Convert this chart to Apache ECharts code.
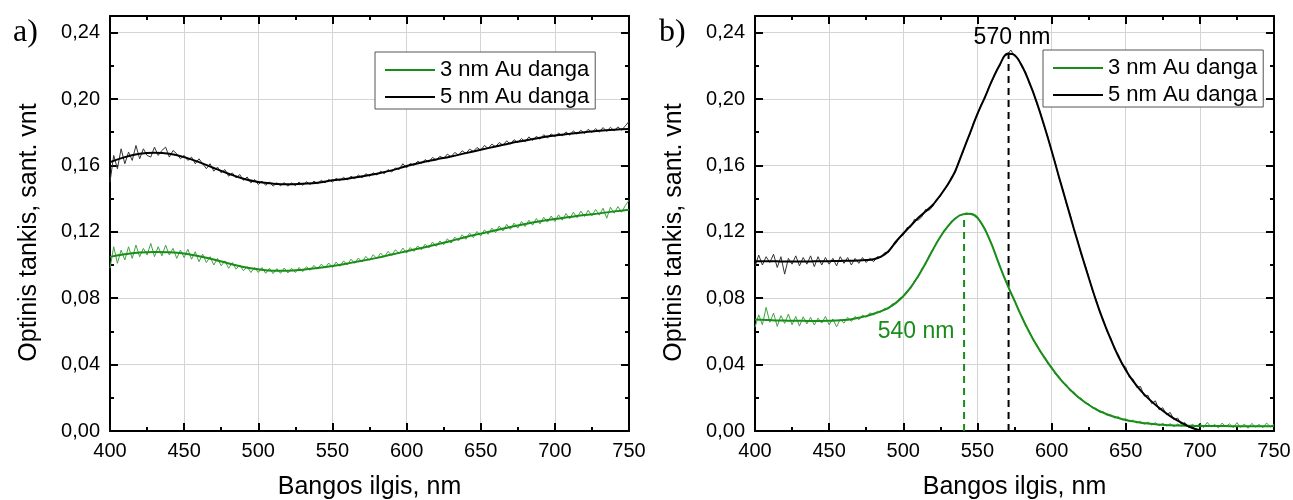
<!DOCTYPE html>
<html>
<head>
<meta charset="utf-8">
<script src="https://cdn.jsdelivr.net/npm/echarts@6/dist/echarts.min.js"></script>
<style>
html,body{margin:0;padding:0;background:#fff;}
#chart{width:1293px;height:500px;}
</style>
</head>
<body>
<div id="chart"></div>
<script>
// ---------- DATA ----------
const seriesNames = ['3 nm Au danga', '5 nm Au danga'];
const panelLabels = ['a)', 'b)'];
const xTitle = 'Bangos ilgis, nm';
const yTitle = 'Optinis tankis, sant. vnt';

const wl10 = [400,410,420,430,440,450,460,470,480,490,500,510,520,530,540,550,560,570,580,590,600,610,620,630,640,650,660,670,680,690,700,710,720,730,740,750];
const wl5 = [400,405,410,415,420,425,430,435,440,445,450,455,460,465,470,475,480,485,490,495,500,505,510,515,520,525,530,535,540,545,550,555,560,565,570,575,580,585,590,595,600,605,610,615,620,625,630,635,640,645,650,655,660,665,670,675,680,685,690,695,700,705,710,715,720,725,730,735,740,745,750];
const wl25 = [
  400,402.5,405,407.5,410,412.5,415,417.5,420,422.5,
  425,427.5,430,432.5,435,437.5,440,442.5,445,447.5,
  450,452.5,455,457.5,460,462.5,465,467.5,470,472.5,
  475,477.5,480,482.5,485,487.5,490,492.5,495,497.5,
  500,502.5,505,507.5,510,512.5,515,517.5,520,522.5,
  525,527.5,530,532.5,535,537.5,540,542.5,545,547.5,
  550,552.5,555,557.5,560,562.5,565,567.5,570,572.5,
  575,577.5,580,582.5,585,587.5,590,592.5,595,597.5,
  600,602.5,605,607.5,610,612.5,615,617.5,620,622.5,
  625,627.5,630,632.5,635,637.5,640,642.5,645,647.5,
  650,652.5,655,657.5,660,662.5,665,667.5,670,672.5,
  675,677.5,680,682.5,685,687.5,690,692.5,695,697.5,
  700,702.5,705,707.5,710,712.5,715,717.5,720,722.5,
  725,727.5,730,732.5,735,737.5,740,742.5,745,747.5,
  750];

// panel a) fitted curves (10 nm step)
const fitA3 = [0.1049,0.1065,0.1075,0.1079,0.1077,0.1069,0.1053,0.1033,0.1009,0.0988,0.0974,0.0966,0.0966,0.0972,0.0982,0.0994,0.1009,0.1025,0.1043,0.1063,0.1083,0.1103,0.1123,0.1145,0.1169,0.1189,0.1209,0.1229,0.1247,0.1263,0.1277,0.1289,0.1301,0.1311,0.1323,0.1333];
const fitA5 = [0.162,0.165,0.167,0.1676,0.167,0.165,0.162,0.1584,0.155,0.152,0.150,0.149,0.1486,0.149,0.1496,0.151,0.152,0.1534,0.155,0.157,0.1596,0.1618,0.1636,0.1654,0.1674,0.1694,0.1714,0.1734,0.175,0.1767,0.178,0.179,0.180,0.1809,0.1815,0.1819];
// panel a) measured spectra (2.5 nm step)
const rawA3 = [
  0.098,0.111,0.101,0.109,0.103,0.111,0.104,0.112,0.105,0.110,
  0.106,0.113,0.105,0.111,0.1055,0.112,0.106,0.110,0.104,0.109,
  0.1045,0.1095,0.1035,0.108,0.102,0.1065,0.1015,0.105,0.100,0.104,
  0.0995,0.1025,0.098,0.1015,0.0975,0.1000,0.0965,0.0990,0.0955,0.0985,
  0.0955,0.0985,0.0950,0.0980,0.0948,0.0978,0.0950,0.0982,0.0952,0.0980,
  0.0955,0.0985,0.0960,0.0990,0.0968,0.0998,0.0975,0.1005,0.0982,0.1012,
  0.0985,0.1018,0.0992,0.1025,0.1000,0.1035,0.1010,0.1042,0.1018,0.1052,
  0.1028,0.1062,0.1038,0.1072,0.1048,0.1082,0.1058,0.1092,0.1068,0.1102,
  0.1072,0.1105,0.1082,0.1115,0.1092,0.1125,0.1102,0.1138,0.1112,0.1145,
  0.1122,0.1158,0.1132,0.1168,0.1145,0.1182,0.1155,0.1192,0.1165,0.1202,
  0.1175,0.1212,0.1185,0.1222,0.1195,0.1235,0.1205,0.1245,0.1215,0.1252,
  0.1222,0.1262,0.1232,0.1270,0.1240,0.1280,0.1248,0.1288,0.1258,0.1295,
  0.1262,0.1302,0.1270,0.1310,0.1278,0.1318,0.1285,0.1325,0.1292,0.1330,
  0.1296,0.1335,0.1300,0.1342,0.1282,0.1348,0.1312,0.1352,0.1318,0.1358,
  0.1390];
const rawA5 = [
  0.150,0.166,0.158,0.170,0.161,0.168,0.163,0.172,0.164,0.170,
  0.166,0.165,0.171,0.166,0.169,0.171,0.165,0.169,0.167,0.164,
  0.166,0.163,0.165,0.161,0.164,0.161,0.158,0.161,0.1565,0.159,
  0.1555,0.1575,0.1535,0.1555,0.1525,0.1545,0.151,0.153,0.1495,0.1515,
  0.1485,0.1505,0.148,0.150,0.1475,0.1495,0.1478,0.1496,0.1475,0.1495,
  0.1478,0.150,0.148,0.1502,0.1485,0.1505,0.149,0.151,0.1495,0.1515,
  0.150,0.1522,0.1508,0.1528,0.1512,0.1535,0.152,0.1542,0.1525,0.155,
  0.1535,0.1555,0.1542,0.1565,0.155,0.1575,0.156,0.1585,0.1575,0.161,
  0.1585,0.1612,0.160,0.1625,0.1612,0.1635,0.162,0.1648,0.1632,0.1655,
  0.1642,0.1668,0.1652,0.1678,0.1662,0.1688,0.1672,0.1698,0.1684,0.1708,
  0.1692,0.172,0.1702,0.1728,0.1712,0.1738,0.1722,0.1748,0.1728,0.1755,
  0.1738,0.1762,0.1742,0.1772,0.175,0.1775,0.1758,0.1785,0.1765,0.179,
  0.1772,0.1795,0.1778,0.1802,0.1782,0.1808,0.1788,0.1812,0.1792,0.1818,
  0.1798,0.1822,0.180,0.1828,0.1805,0.183,0.1808,0.1832,0.1812,0.1838,
  0.1865];

// panel b) fitted curves (5 nm step; the 5 nm film curve ends at 700 nm)
const fitB3 = [0.0672,0.0670,0.0668,0.0666,0.0665,0.0664,0.0664,0.0663,0.0663,0.0663,0.0664,0.0665,0.0668,0.0673,0.0682,0.0692,0.0706,0.0722,0.0742,0.0772,0.0812,0.0865,0.0932,0.1010,0.1093,0.1170,0.1233,0.1280,0.1305,0.1308,0.1285,0.1215,0.1115,0.0995,0.0885,0.0785,0.0685,0.0595,0.0515,0.0445,0.0380,0.0322,0.0272,0.0228,0.0190,0.0158,0.0130,0.0109,0.0092,0.0078,0.0066,0.0058,0.0050,0.0045,0.0040,0.0037,0.0034,0.0033,0.0032,0.0031,0.0030,0.0030,0.0030,0.0030,0.0029,0.0029,0.0029,0.0029,0.0028,0.0028,0.0028];
const fitB5 = [0.1023,0.1023,0.1023,0.1022,0.1021,0.1021,0.1021,0.1021,0.1022,0.1022,0.1023,0.1024,0.1025,0.1026,0.1027,0.1030,0.1035,0.1050,0.1083,0.1140,0.1190,0.1237,0.1283,0.1322,0.1363,0.1420,0.1485,0.1565,0.1680,0.1795,0.1910,0.2010,0.2115,0.2205,0.2272,0.2265,0.2200,0.2100,0.1980,0.1840,0.1690,0.1530,0.1375,0.1220,0.1070,0.0925,0.0785,0.0660,0.0550,0.0450,0.0368,0.0300,0.0245,0.0198,0.0158,0.0122,0.0090,0.0062,0.0038,0.0018,0.0004];
// panel b) measured spectra (2.5 nm step)
const rawB3 = [
  0.0625,0.0700,0.0640,0.0745,0.0655,0.0710,0.0630,0.0695,0.0648,0.0705,
  0.0640,0.0690,0.0632,0.0688,0.0645,0.0685,0.0638,0.0680,0.0650,0.0690,
  0.0640,0.0675,0.0628,0.0672,0.0650,0.0685,0.0660,0.0690,0.0670,0.0698,
  0.0685,0.0712,0.0698,0.0722,0.0715,0.0740,0.0735,0.0765,0.0768,0.0800,
  0.0808,0.0845,0.0858,0.0905,0.0925,0.0978,0.1002,0.1058,0.1088,0.1138,
  0.1165,0.1210,0.1228,0.1265,0.1275,0.1300,0.1302,0.1315,0.1305,0.1302,
  0.1290,0.1250,0.1222,0.1165,0.1120,0.1050,0.1002,0.0935,0.0890,0.0828,
  0.0792,0.0728,0.0692,0.0632,0.0602,0.0548,0.0522,0.0472,0.0452,0.0405,
  0.0388,0.0342,0.0330,0.0290,0.0280,0.0242,0.0236,0.0202,0.0198,0.0168,
  0.0165,0.0138,0.0138,0.0112,0.0116,0.0094,0.0098,0.0078,0.0086,0.0066,
  0.0074,0.0058,0.0066,0.0048,0.0058,0.0040,0.0054,0.0036,0.0050,0.0032,
  0.0046,0.0030,0.0044,0.0026,0.0042,0.0028,0.0048,0.0022,0.0040,0.0026,
  0.0046,0.0020,0.0052,0.0024,0.0040,0.0018,0.0048,0.0026,0.0044,0.0020,
  0.0050,0.0022,0.0042,0.0016,0.0046,0.0024,0.0040,0.0020,0.0048,0.0026,
  0.0040];
const rawB5 = [
  0.099,0.106,0.100,0.105,0.1015,0.1065,0.0985,0.105,0.0945,0.104,
  0.1005,0.1055,0.0995,0.1045,0.1005,0.1055,0.0990,0.1050,0.1000,0.1045,
  0.1005,0.1040,0.0995,0.1050,0.1010,0.1045,0.1000,0.1040,0.1010,0.1045,
  0.1015,0.1040,0.1020,0.1050,0.1045,0.1075,0.1075,0.1115,0.1130,0.1170,
  0.1180,0.1225,0.1228,0.1275,0.1270,0.1290,0.1335,0.1330,0.1355,0.1398,
  0.1412,0.1458,0.1478,0.1528,0.1558,0.1628,0.1672,0.1742,0.1788,0.1862,
  0.1905,0.1968,0.2005,0.2068,0.2108,0.2168,0.2198,0.2255,0.2265,0.2295,
  0.2258,0.2245,0.2192,0.2162,0.2092,0.2048,0.1972,0.1918,0.1835,0.1772,
  0.1685,0.1615,0.1525,0.1458,0.1368,0.1305,0.1215,0.1152,0.1062,0.1005,
  0.0932,0.0848,0.0792,0.0715,0.0668,0.0598,0.0560,0.0492,0.0462,0.0398,
  0.0385,0.0322,0.0312,0.0262,0.0268,0.0210,0.0215,0.0165,0.0182,0.0128,
  0.0140,0.0098,0.0112,0.0068,0.0078,0.0042,0.0050,0.0022,0.0026,0.0008,
  0.0005];

// panel b) peak markers
const peakWl = [541, 571];
const peakTop = [0.129, 0.228];
const peakText = ['540 nm', '570 nm'];
const peakTextAt = [[508.6, 0.0596], [573.3, 0.237]];

const xTicks = {min: 400, max: 750, interval: 50};
const yTicks = {min: 0, max: 0.25, interval: 0.04};

// ---------- STYLE ----------
const GREEN = '#1a8c1a';
const GREEN_RAW = '#3fa53f';
const BLACK = '#000000';
const BLACK_RAW = '#333333';
const FONT = 'Liberation Sans, Arial, sans-serif';

function pairs(xs, ys) { return ys.map((v, i) => [xs[i], v]); }
function fmt(v) { return v.toFixed(2).replace('.', ','); }

const grids = [
  {left: 110, right: 664, top: 16, bottom: 69, containLabel: false, outerBoundsMode: 'none'},
  {left: 755, right: 19, top: 16, bottom: 69, containLabel: false, outerBoundsMode: 'none'}
];

const xAxes = [], yAxes = [];
grids.forEach((g, gi) => {
  const baseTick = {show: true, inside: true, length: 8, lineStyle: {color: '#000', width: 2}};
  const minor = {show: true, splitNumber: 2, length: 4, lineStyle: {color: '#000', width: 2}};
  const line = {show: true, onZero: false, lineStyle: {color: '#000', width: 2}};
  xAxes.push({
    type: 'value', gridIndex: gi, position: 'bottom',
    min: xTicks.min, max: xTicks.max, interval: xTicks.interval,
    axisLine: line, axisTick: baseTick, minorTick: minor,
    splitLine: {show: true, lineStyle: {color: '#d4d4d4', width: 1}},
    axisLabel: {color: '#000', fontSize: 20, fontFamily: FONT, margin: 10},
    name: xTitle, nameLocation: 'middle', nameGap: 44,
    nameTextStyle: {color: '#000', fontSize: 25, fontFamily: FONT}
  });
  xAxes.push({
    type: 'value', gridIndex: gi, position: 'top',
    min: xTicks.min, max: xTicks.max, interval: xTicks.interval,
    axisLine: line, axisTick: baseTick, minorTick: minor,
    splitLine: {show: false}, axisLabel: {show: false}
  });
  yAxes.push({
    type: 'value', gridIndex: gi, position: 'left',
    min: yTicks.min, max: yTicks.max, interval: yTicks.interval,
    axisLine: line, axisTick: baseTick, minorTick: minor,
    splitLine: {show: true, lineStyle: {color: '#d4d4d4', width: 1}},
    axisLabel: {color: '#000', fontSize: 20, fontFamily: FONT, margin: 10, showMaxLabel: false,
      formatter: v => fmt(v)},
    name: yTitle, nameLocation: 'middle', nameGap: 68, nameRotate: 90,
    nameTextStyle: {color: '#000', fontSize: 25, fontFamily: FONT, padding: [0, 18, 0, 0]}
  });
  yAxes.push({
    type: 'value', gridIndex: gi, position: 'right',
    min: yTicks.min, max: yTicks.max, interval: yTicks.interval,
    axisLine: line, axisTick: baseTick, minorTick: minor,
    splitLine: {show: false}, axisLabel: {show: false}
  });
});

function lineSeries(name, data, xi, yi, color, width, smooth, z) {
  return {
    name: name, type: 'line', xAxisIndex: xi, yAxisIndex: yi, data: data,
    showSymbol: false, symbol: 'none', smooth: smooth, z: z,
    lineStyle: {color: color, width: width}, itemStyle: {color: color},
    emphasis: {disabled: true}, silent: true
  };
}

const series = [
  // fitted curves (these define the legend entries)
  lineSeries(seriesNames[0], pairs(wl10, fitA3), 0, 0, GREEN, 2, 0.4, 5),
  lineSeries(seriesNames[1], pairs(wl10, fitA5), 0, 0, BLACK, 2, 0.4, 5),
  lineSeries(seriesNames[0], pairs(wl5, fitB3), 2, 2, GREEN, 2, 0.3, 5),
  lineSeries(seriesNames[1], pairs(wl5, fitB5), 2, 2, BLACK, 2, 0.3, 5),
  // measured spectra
  lineSeries('raw a 3', pairs(wl25, rawA3), 0, 0, GREEN_RAW, 1, false, 3),
  lineSeries('raw a 5', pairs(wl25, rawA5), 0, 0, BLACK_RAW, 1, false, 3),
  lineSeries('raw b 3', pairs(wl25, rawB3), 2, 2, GREEN_RAW, 1, false, 3),
  lineSeries('raw b 5', pairs(wl25, rawB5), 2, 2, BLACK_RAW, 1, false, 3)
];

// dashed peak lines and their labels
[GREEN, BLACK].forEach((c, i) => {
  series.push({
    name: 'peak ' + i, type: 'line', xAxisIndex: 2, yAxisIndex: 2,
    data: [[peakWl[i], 0], [peakWl[i], peakTop[i]]],
    symbol: 'none', z: 4, silent: true,
    lineStyle: {color: c, width: 2, type: [7, 5]}
  });
  series.push({
    name: 'peak label ' + i, type: 'scatter', xAxisIndex: 2, yAxisIndex: 2,
    data: [{value: peakTextAt[i], name: peakText[i]}],
    symbolSize: 1, itemStyle: {color: 'rgba(0,0,0,0)', opacity: 1}, z: 10, silent: true,
    label: {show: true, position: 'inside', formatter: '{b}', color: c, opacity: 1,
      textBorderWidth: 0, fontSize: 23, fontFamily: FONT}
  });
});

const legendCommon = {
  orient: 'vertical', data: seriesNames, icon: 'rect', itemWidth: 50, itemHeight: 2,
  itemGap: 5, padding: [7, 6, 1, 10], borderColor: '#555', borderWidth: 1,
  backgroundColor: '#fff', selectedMode: false,
  textStyle: {color: '#000', fontSize: 22, fontFamily: FONT}
};

const option = {
  animation: false,
  backgroundColor: '#fff',
  title: panelLabels.map((t, i) => ({
    text: t, left: i === 0 ? 8 : 654, top: 12,
    textStyle: {fontFamily: 'Liberation Serif, Times New Roman, serif', fontWeight: 'normal', fontSize: 32, color: '#000'}
  })),
  legend: [
    Object.assign({left: 375, top: 52}, legendCommon),
    Object.assign({left: 1043, top: 50}, legendCommon)
  ],
  grid: grids,
  xAxis: xAxes,
  yAxis: yAxes,
  series: series
};

const chart = echarts.init(document.getElementById('chart'), null, {renderer: 'canvas'});
chart.setOption(option);
</script>
</body>
</html>
